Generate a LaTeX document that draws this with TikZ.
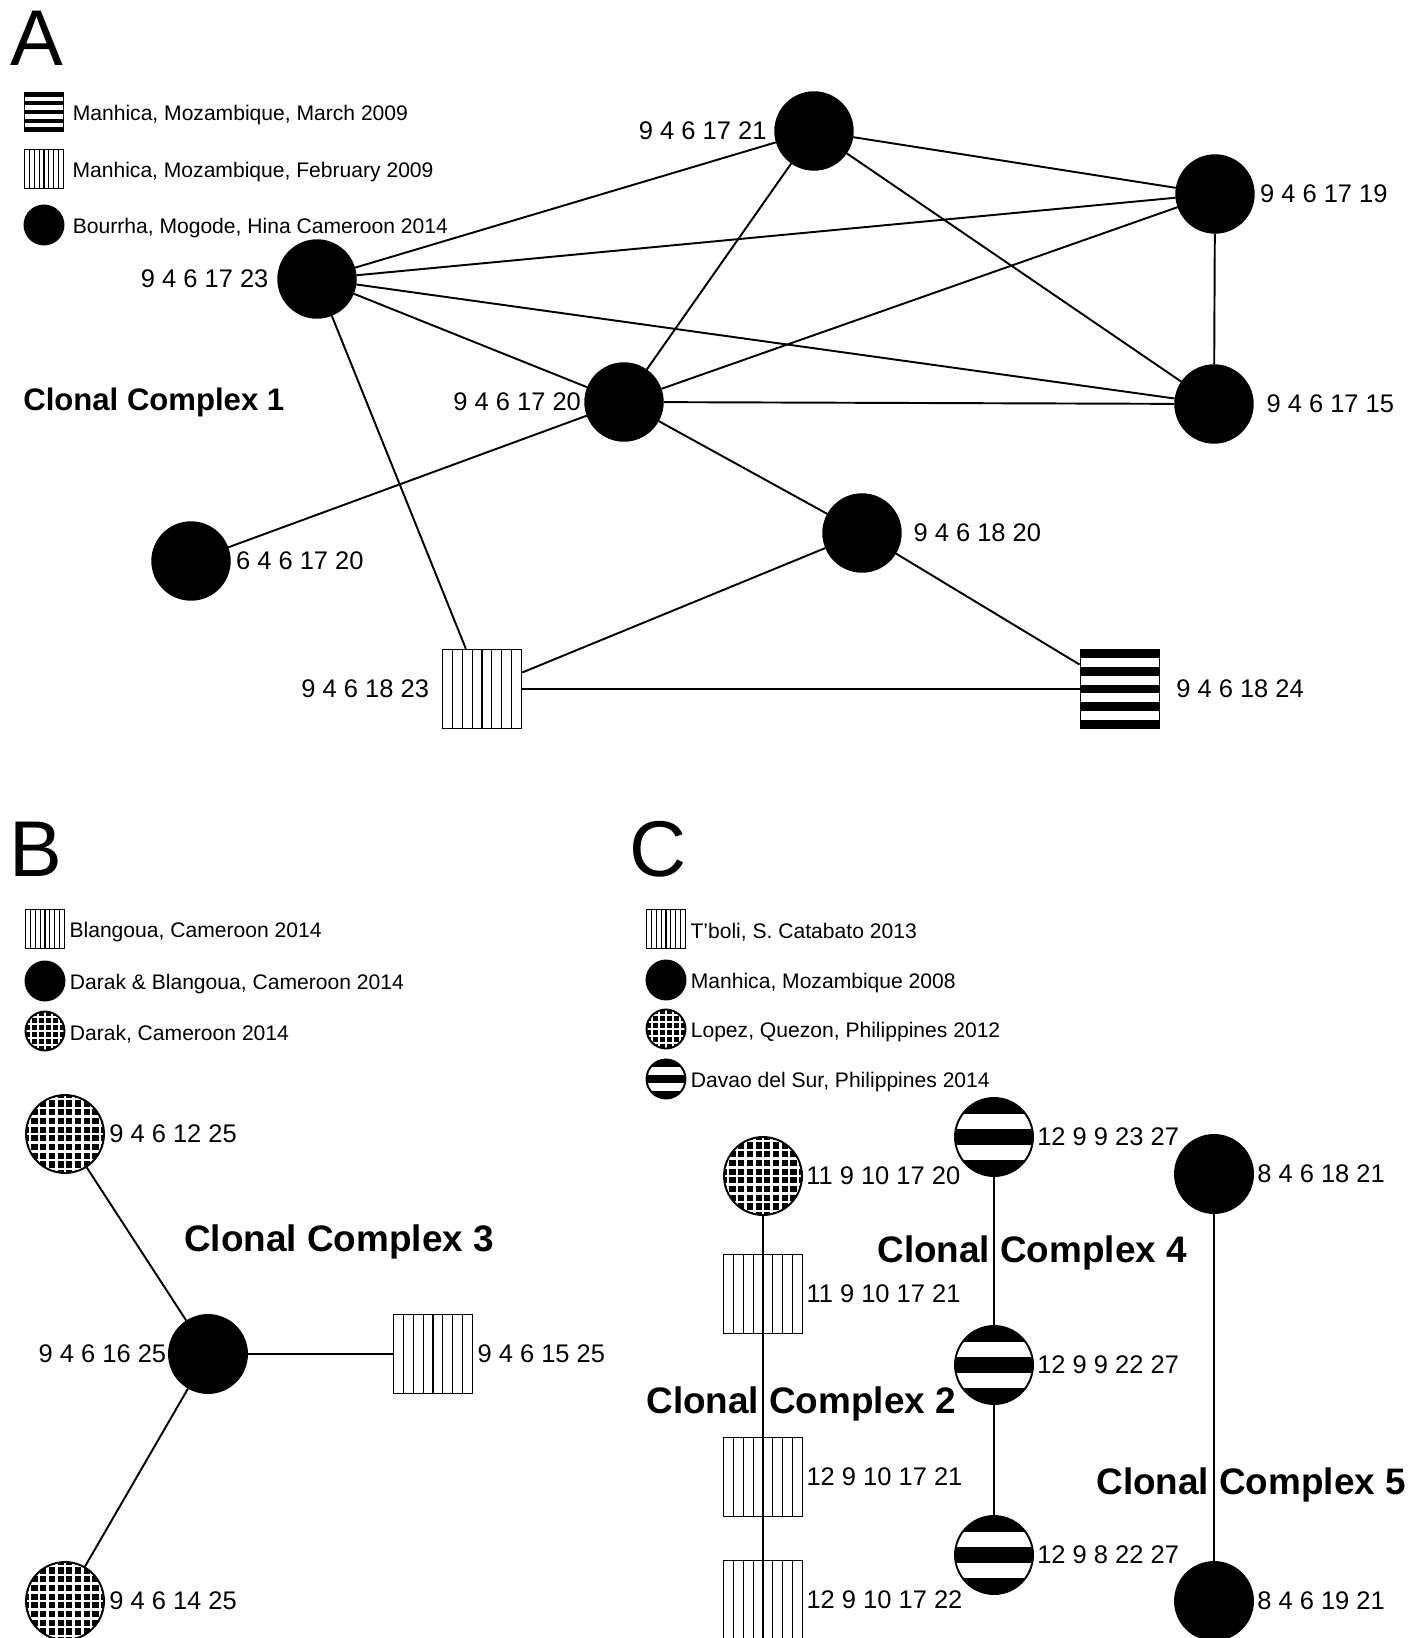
\documentclass[tikz,border=0pt]{standalone}
\usepackage{fontspec}
\setmainfont{Liberation Sans}
\usetikzlibrary{positioning}

\tikzset{
    edge/.style={line width=1.1pt},
    solidc/.style={circle, draw, line width=1.1pt, fill=black, inner sep=0pt, minimum size=#1},
    checkc/.style 2 args={solidc=#1,
        path picture={\foreach \k in {-6,...,6} {
            \draw[white, line width=1.4pt] ([shift={(\k*#2,-1cm)}]path picture bounding box.center) -- ++(0cm,2cm);
            \draw[white, line width=1.4pt] ([shift={(-1cm,\k*#2)}]path picture bounding box.center) -- ++(2cm,0cm);
        }}},
    hstripec/.style 2 args={solidc=#1,
        path picture={\foreach \k in {-1,1} {
            \fill[white] ([shift={(-1cm,{(\k-0.5)*#2})}]path picture bounding box.center)
                rectangle ([shift={(1cm,{(\k+0.5)*#2})}]path picture bounding box.center);
        }}},
    hstripesq/.style 2 args={rectangle, draw, line width=1.1pt, fill=black, inner sep=0pt, minimum size=#1,
        path picture={\foreach \k in {-3,-1,1,3} {
            \fill[white] ([shift={(-1cm,{(\k-0.5)*#2})}]path picture bounding box.center)
                rectangle ([shift={(1cm,{(\k+0.5)*#2})}]path picture bounding box.center);
        }}},
    vstripesq/.style 2 args={rectangle, draw, line width=0.8pt, fill=white, inner sep=0pt, minimum size=#1,
        path picture={\foreach \k in {-3,...,3} {
            \draw[line width=0.6pt] ([shift={(\k*#2,-1cm)}]path picture bounding box.center) -- ++(0cm,2cm);
        }}},
    lbl/.style={inner sep=0pt, font=\fontsize{14.5}{17}\selectfont},
    legtext/.style={inner sep=0pt, anchor=west, yshift=-0.07cm, font=\fontsize{12}{14}\selectfont},
    cctitle/.style={inner sep=0pt, anchor=base west, font=\fontsize{21}{25}\selectfont\bfseries},
    letter/.style={inner sep=0pt, anchor=base west, font=\fontsize{45}{54}\selectfont}
}

\begin{document}
\begin{tikzpicture}[x=0.02cm, y=-0.02cm]
    \clip (0,0) rectangle (1417,1638);

    % Panel A
    \node[letter] (lA) at (10,66) {A};
    \node[hstripesq={0.78cm}{0.087cm}] (kA1) at (44,112) {};
    \node[vstripesq={0.78cm}{0.0975cm}] (kA2) at (44,169) {};
    \node[solidc=0.78cm] (kA3) at (44,225) {};
    \node[legtext, right=0.16cm of kA1] (tA1) {Manhica, Mozambique, March 2009};
    \node[legtext, right=0.16cm of kA2] (tA2) {Manhica, Mozambique, February 2009};
    \node[legtext, right=0.16cm of kA3] (tA3) {Bourrha, Mogode, Hina Cameroon 2014};
    \node[cctitle, font=\fontsize{17.7}{21}\selectfont\bfseries] (cc1) at (23,411) {Clonal Complex 1};

    \node[solidc=1.55cm] (st1723) at (317,279) {};
    \node[solidc=1.55cm] (st1721) at (814,131) {};
    \node[solidc=1.55cm] (st1719) at (1215,194) {};
    \node[solidc=1.55cm] (st1715) at (1214,404) {};
    \node[solidc=1.55cm] (st1720) at (624,402) {};
    \node[solidc=1.55cm] (st6420) at (191,561) {};
    \node[solidc=1.55cm] (st1820) at (862,533) {};
    \node[vstripesq={1.58cm}{0.1975cm}] (st1823) at (482,689) {};
    \node[hstripesq={1.58cm}{0.175cm}] (st1824) at (1120,689) {};

    \node[lbl, left=0.17cm of st1723] {9 4 6 17 23};
    \node[lbl, left=0.15cm of st1721] {9 4 6 17 21};
    \node[lbl, right=0.1cm of st1719] {9 4 6 17 19};
    \node[lbl, right=0.25cm of st1715] {9 4 6 17 15};
    \node[lbl, left=0.06cm of st1720] {9 4 6 17 20};
    \node[lbl, right=0.1cm of st6420] {6 4 6 17 20};
    \node[lbl, right=0.23cm of st1820] {9 4 6 18 20};
    \node[lbl, left=0.25cm of st1823] {9 4 6 18 23};
    \node[lbl, right=0.31cm of st1824] {9 4 6 18 24};

    \foreach \u/\v in {st1723/st1721, st1723/st1719, st1723/st1715, st1723/st1720,
        st1723/st1823, st1721/st1720, st1721/st1719, st1721/st1715, st1719/st1715,
        st1719/st1720, st1720/st1715, st1720/st6420, st1720/st1820, st1820/st1823,
        st1820/st1824, st1823/st1824} {
        \draw[edge] (\u) -- (\v);
    }

    % Panel B
    \node[letter] (lB) at (9,876) {B};
    \node[vstripesq={0.78cm}{0.0975cm}] (kB1) at (45,929) {};
    \node[solidc=0.78cm] (kB2) at (45,981) {};
    \node[checkc={0.78cm}{0.14cm}] (kB3) at (45,1031) {};
    \node[legtext, right=0.08cm of kB1] {Blangoua, Cameroon 2014};
    \node[legtext, right=0.08cm of kB2] {Darak \& Blangoua, Cameroon 2014};
    \node[legtext, right=0.08cm of kB3] {Darak, Cameroon 2014};
    \node[cctitle] (cc3) at (184,1251) {Clonal Complex 3};

    \node[checkc={1.56cm}{0.174cm}] (st1225) at (65,1134) {};
    \node[solidc=1.56cm] (st1625) at (208,1354) {};
    \node[checkc={1.56cm}{0.174cm}] (st1425) at (65,1601) {};
    \node[vstripesq={1.58cm}{0.1975cm}] (st1525) at (433,1354) {};

    \node[lbl, right=0.08cm of st1225] {9 4 6 12 25};
    \node[lbl, left=0.03cm of st1625] {9 4 6 16 25};
    \node[lbl, right=0.08cm of st1425] {9 4 6 14 25};
    \node[lbl, right=0.08cm of st1525] {9 4 6 15 25};

    \foreach \v in {st1225, st1425, st1525} {
        \draw[edge] (st1625) -- (\v);
    }

    % Panel C
    \node[letter] (lC) at (629,876) {C};
    \node[vstripesq={0.78cm}{0.0975cm}] (kC1) at (666,929) {};
    \node[solidc=0.78cm] (kC2) at (666,980) {};
    \node[checkc={0.78cm}{0.14cm}] (kC3) at (666,1029) {};
    \node[hstripec={0.78cm}{0.156cm}] (kC4) at (666,1079) {};
    \node[legtext, right=0.08cm of kC1] {T’boli, S. Catabato 2013};
    \node[legtext, right=0.08cm of kC2] {Manhica, Mozambique 2008};
    \node[legtext, right=0.08cm of kC3] {Lopez, Quezon, Philippines 2012};
    \node[legtext, right=0.08cm of kC4] {Davao del Sur, Philippines 2014};

    \node[cctitle] (cc2) at (646,1413) {Clonal Complex 2};
    \node[cctitle] (cc4) at (877,1262) {Clonal Complex 4};
    \node[cctitle] (cc5) at (1096,1494) {Clonal Complex 5};

    % Clonal complex 2
    \node[checkc={1.56cm}{0.174cm}] (ct1720) at (763,1176) {};
    \node[vstripesq={1.58cm}{0.1975cm}] (ct1721) at (763,1294) {};
    \node[vstripesq={1.58cm}{0.1975cm}] (ct2121) at (763,1477) {};
    \node[vstripesq={1.58cm}{0.1975cm}] (ct2122) at (763,1600) {};
    \node[lbl, right=0.06cm of ct1720] {11 9 10 17 20};
    \node[lbl, right=0.06cm of ct1721] {11 9 10 17 21};
    \node[lbl, right=0.06cm of ct2121] {12 9 10 17 21};
    \node[lbl, right=0.06cm of ct2122] {12 9 10 17 22};

    % Clonal complex 4
    \node[hstripec={1.56cm}{0.312cm}] (ct2327) at (994,1137) {};
    \node[hstripec={1.56cm}{0.312cm}] (ct2227) at (994,1365) {};
    \node[hstripec={1.56cm}{0.312cm}] (ct8227) at (994,1555) {};
    \node[lbl, right=0.06cm of ct2327] {12 9 9 23 27};
    \node[lbl, right=0.06cm of ct2227] {12 9 9 22 27};
    \node[lbl, right=0.06cm of ct8227] {12 9 8 22 27};

    % Clonal complex 5
    \node[solidc=1.56cm] (ct1821) at (1214,1174) {};
    \node[solidc=1.56cm] (ct1921) at (1214,1601) {};
    \node[lbl, right=0.06cm of ct1821] {8 4 6 18 21};
    \node[lbl, right=0.06cm of ct1921] {8 4 6 19 21};

    \foreach \u/\v in {ct1720/ct1721, ct1721/ct2121, ct2121/ct2122,
        ct2327/ct2227, ct2227/ct8227, ct1821/ct1921} {
        \draw[edge] (\u) -- (\v);
    }

\end{tikzpicture}
\end{document}
